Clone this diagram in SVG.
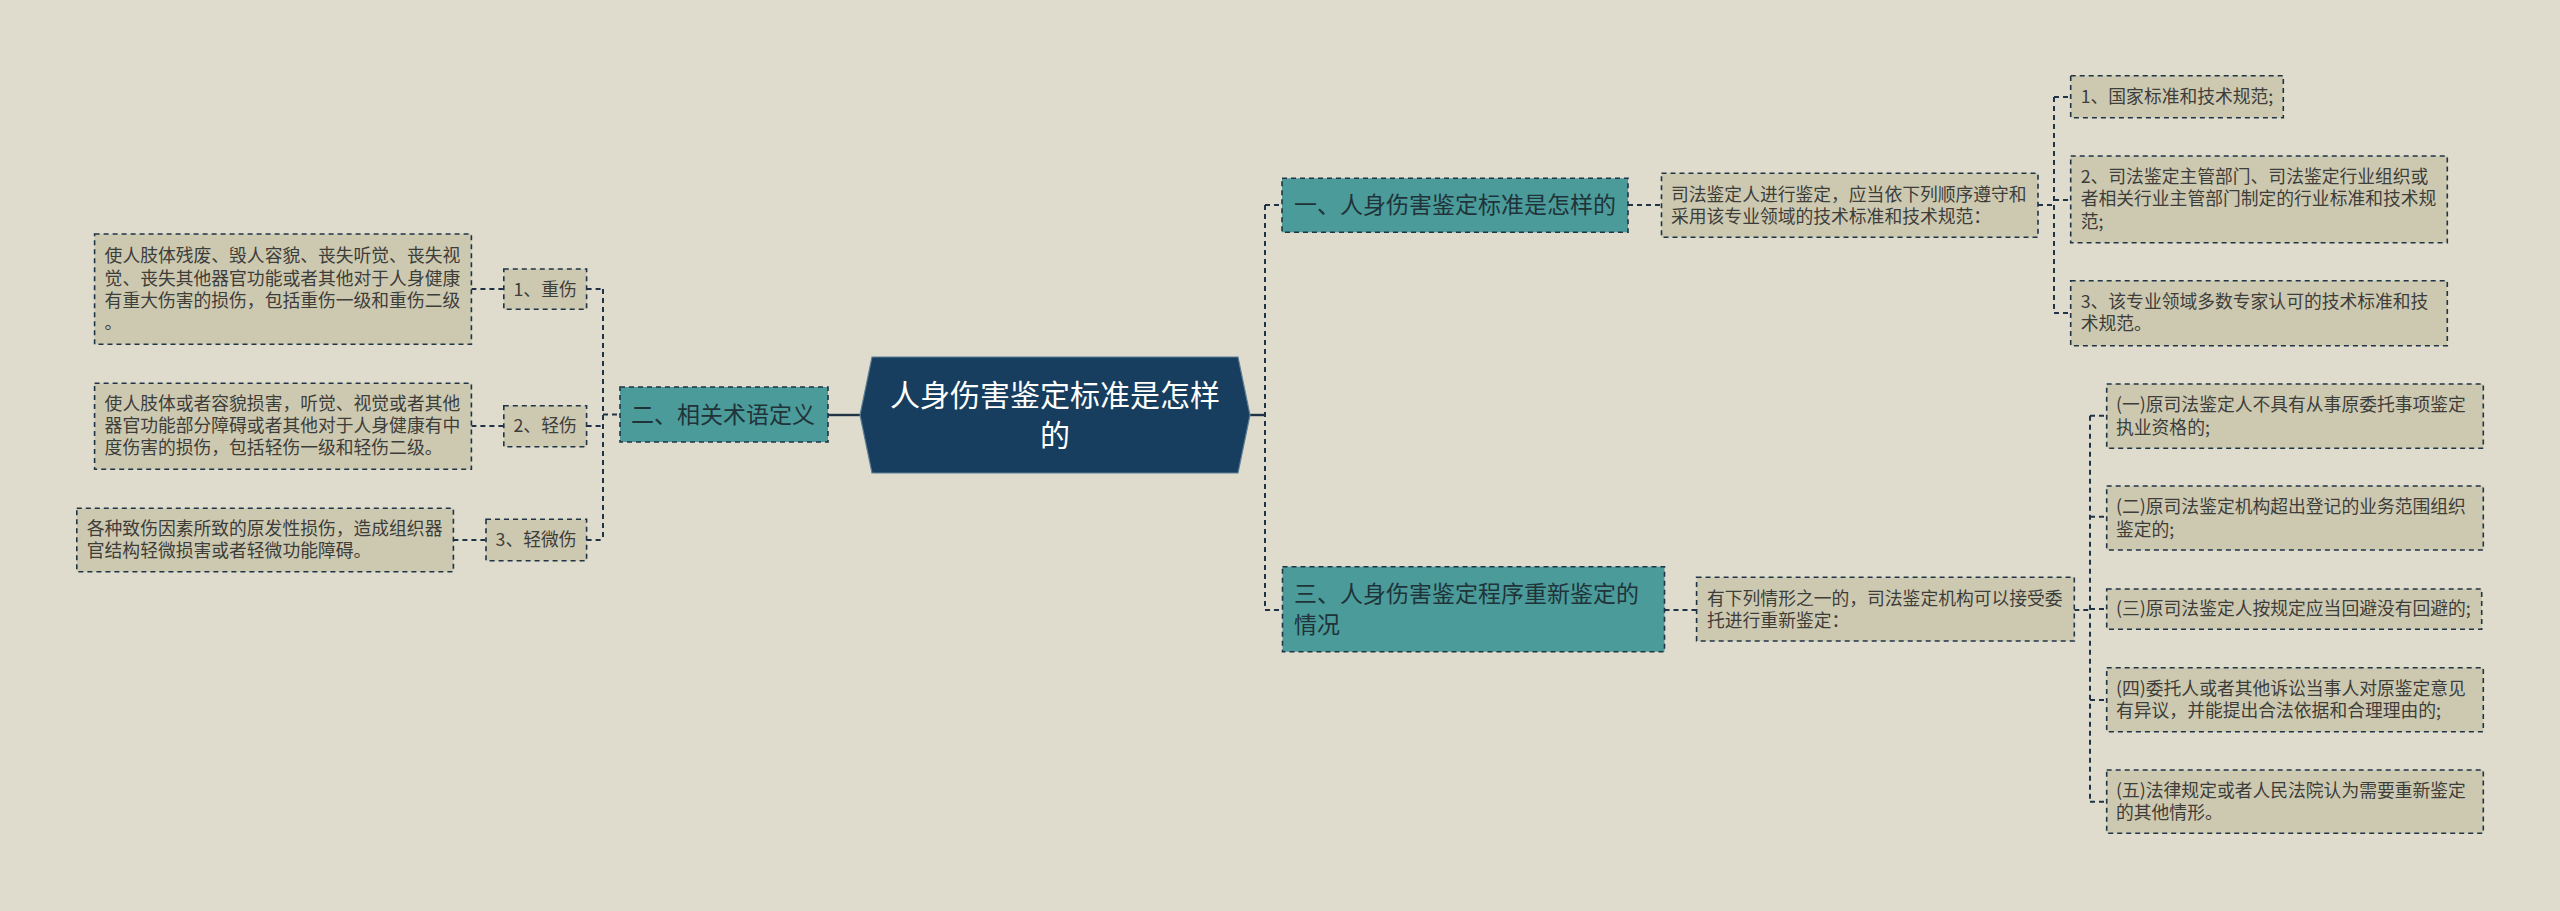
<svg xmlns="http://www.w3.org/2000/svg" width="2560" height="911" viewBox="0 0 2560 911">
<style>
.bg{fill:#dfdccd}
.leaf{fill:#cdc9b1;stroke:#1f3547;stroke-width:1.6;stroke-dasharray:5 4}
.sub{fill:#4b9b9b;stroke:#1f3547;stroke-width:1.6;stroke-dasharray:5 4}
.root{fill:#173e5e;stroke:#5f7f95;stroke-width:1.2}
.lt{font-family:"Noto Sans CJK SC","Noto Sans",sans-serif;font-size:17.8px;fill:#3d3d3a}
.st{font-family:"Noto Sans CJK SC","Noto Sans",sans-serif;font-size:23px;fill:#1f3338}
.rt{font-family:"Noto Sans CJK SC","Noto Sans",sans-serif;font-size:30px;fill:#ffffff}
.c{fill:none;stroke:#1f3547;stroke-width:2;stroke-dasharray:5 4}
.cs{fill:none;stroke:#1f3547;stroke-width:2.4}
</style>
<rect class="bg" x="0" y="0" width="2560" height="911"/>
<g id="connectors">
<path class="cs" d="M828 415H860"/>
<path class="cs" d="M1250 415H1265"/>
<path class="c" d="M603 289V540M586.6 289H603M586.6 426H603M586.6 540H603M603 414.5H620"/>
<path class="c" d="M471.4 289H503.8M471.4 426H503.8M453.4 540H486"/>
<path class="c" d="M1265 205V610M1265 205H1282M1265 610H1282.5"/>
<path class="c" d="M1628 205H1661.5M1664.5 610H1696.6"/>
<path class="c" d="M2038 205H2054M2054 97V313M2054 97H2070.7M2054 200H2070.7M2054 313H2070.7"/>
<path class="c" d="M2074.3 610H2090M2090 415.7V801.7M2090 415.7H2106.7M2090 516.7H2106.7M2090 609H2106.7M2090 700H2106.7M2090 801.7H2106.7"/>
</g>
<g id="root">
<polygon class="root" points="860,415 872,357 1238,357 1250,415 1238,473 872,473"/>
<text class="rt" x="1055" y="405.5" text-anchor="middle">人身伤害鉴定标准是怎样</text>
<text class="rt" x="1055" y="445.5" text-anchor="middle">的</text>
</g>
<g id="n-b2">
<rect class="sub" x="620" y="387" width="208" height="55"/>
<text class="st" x="631" y="422.5">二、相关术语定义</text>
</g>
<g id="n-b2-1">
<rect class="leaf" x="503.8" y="269" width="82.8" height="40.3"/>
<text class="lt" x="513.5" y="295.5">1、重伤</text>
</g>
<g id="n-b2-1d">
<rect class="leaf" x="94.6" y="234" width="376.8" height="110.3"/>
<text class="lt" x="104.6" y="262.2">使人肢体残废、毁人容貌、丧失听觉、丧失视</text>
<text class="lt" x="104.6" y="284.6">觉、丧失其他器官功能或者其他对于人身健康</text>
<text class="lt" x="104.6" y="307">有重大伤害的损伤，包括重伤一级和重伤二级</text>
<text class="lt" x="104.6" y="329.4">。</text>
</g>
<g id="n-b2-2">
<rect class="leaf" x="503.8" y="405.7" width="82.8" height="41"/>
<text class="lt" x="513.5" y="432.3">2、轻伤</text>
</g>
<g id="n-b2-2d">
<rect class="leaf" x="94.6" y="383.3" width="376.8" height="86"/>
<text class="lt" x="104.6" y="409.6">使人肢体或者容貌损害，听觉、视觉或者其他</text>
<text class="lt" x="104.6" y="432">器官功能部分障碍或者其他对于人身健康有中</text>
<text class="lt" x="104.6" y="454.4">度伤害的损伤，包括轻伤一级和轻伤二级。</text>
</g>
<g id="n-b2-3">
<rect class="leaf" x="486" y="519.3" width="100.6" height="41.4"/>
<text class="lt" x="495.6" y="546.3">3、轻微伤</text>
</g>
<g id="n-b2-3d">
<rect class="leaf" x="76.8" y="508.3" width="376.6" height="63.4"/>
<text class="lt" x="86.8" y="534.7">各种致伤因素所致的原发性损伤，造成组织器</text>
<text class="lt" x="86.8" y="557.1">官结构轻微损害或者轻微功能障碍。</text>
</g>
<g id="n-b1">
<rect class="sub" x="1282" y="178.3" width="346" height="54"/>
<text class="st" x="1294" y="213.3">一、人身伤害鉴定标准是怎样的</text>
</g>
<g id="n-b1d">
<rect class="leaf" x="1661.5" y="173.3" width="376.5" height="64"/>
<text class="lt" x="1671" y="200.9">司法鉴定人进行鉴定，应当依下列顺序遵守和</text>
<text class="lt" x="1671" y="223.3">采用该专业领域的技术标准和技术规范：</text>
</g>
<g id="n-b1-1">
<rect class="leaf" x="2070.7" y="75.7" width="212.6" height="42"/>
<text class="lt" x="2080.7" y="103.2">1、国家标准和技术规范;</text>
</g>
<g id="n-b1-2">
<rect class="leaf" x="2070.7" y="156" width="376.6" height="86.7"/>
<text class="lt" x="2080.7" y="182.9">2、司法鉴定主管部门、司法鉴定行业组织或</text>
<text class="lt" x="2080.7" y="205.3">者相关行业主管部门制定的行业标准和技术规</text>
<text class="lt" x="2080.7" y="227.7">范;</text>
</g>
<g id="n-b1-3">
<rect class="leaf" x="2070.7" y="280.7" width="376.6" height="65"/>
<text class="lt" x="2080.7" y="308">3、该专业领域多数专家认可的技术标准和技</text>
<text class="lt" x="2080.7" y="330.4">术规范。</text>
</g>
<g id="n-b3">
<rect class="sub" x="1282.5" y="566.7" width="382" height="85"/>
<text class="st" x="1294" y="601.5">三、人身伤害鉴定程序重新鉴定的</text>
<text class="st" x="1294" y="632.5">情况</text>
</g>
<g id="n-b3d">
<rect class="leaf" x="1696.6" y="577.3" width="377.7" height="63.7"/>
<text class="lt" x="1707" y="604.5">有下列情形之一的，司法鉴定机构可以接受委</text>
<text class="lt" x="1707" y="626.9">托进行重新鉴定：</text>
</g>
<g id="n-b3-1">
<rect class="leaf" x="2106.7" y="384" width="376.6" height="64.3"/>
<text class="lt" x="2116" y="411.3">(一)原司法鉴定人不具有从事原委托事项鉴定</text>
<text class="lt" x="2116" y="433.7">执业资格的;</text>
</g>
<g id="n-b3-2">
<rect class="leaf" x="2106.7" y="486" width="376.6" height="64"/>
<text class="lt" x="2116" y="513.2">(二)原司法鉴定机构超出登记的业务范围组织</text>
<text class="lt" x="2116" y="535.6">鉴定的;</text>
</g>
<g id="n-b3-3">
<rect class="leaf" x="2106.7" y="589" width="375" height="40.3"/>
<text class="lt" x="2116" y="615.4">(三)原司法鉴定人按规定应当回避没有回避的;</text>
</g>
<g id="n-b3-4">
<rect class="leaf" x="2106.7" y="667.7" width="376.6" height="64"/>
<text class="lt" x="2116" y="694.9">(四)委托人或者其他诉讼当事人对原鉴定意见</text>
<text class="lt" x="2116" y="717.3">有异议，并能提出合法依据和合理理由的;</text>
</g>
<g id="n-b3-5">
<rect class="leaf" x="2106.7" y="770" width="376.6" height="63.3"/>
<text class="lt" x="2116" y="796.8">(五)法律规定或者人民法院认为需要重新鉴定</text>
<text class="lt" x="2116" y="819.2">的其他情形。</text>
</g>
</svg>
